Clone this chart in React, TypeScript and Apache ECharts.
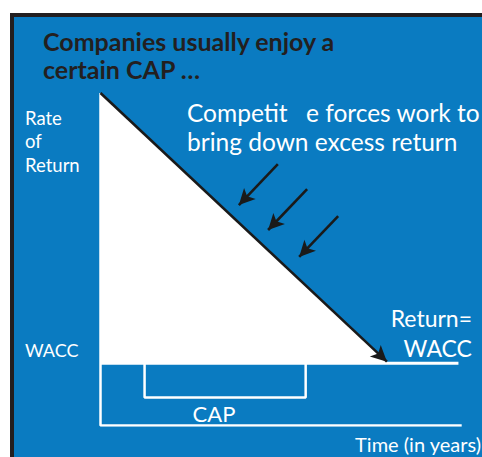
import React, { useEffect, useRef } from "react";
import * as echarts from "echarts";

// Conceptual axes: time (x) and rate of return (y), both 0..100
const waccLevel = 18.7;
const excessReturn: [number, number][] = [
  [0, 100],
  [79.7, 18.7],
];
const returnArrow: [number, number][] = [
  [0, 100],
  [79.3, 19.2],
];
const forceArrows: [number, number][][] = [
  [[49.1, 78.6], [38.3, 66.3]],
  [[57.2, 71.1], [46.4, 58.8]],
  [[65.8, 63.0], [55.0, 50.7]],
];
const waccLine: [number, number][] = [
  [0, 18.7],
  [99.1, 18.7],
];
const timeAxisLine: [number, number][] = [
  [0, 100],
  [0, 0],
  [100, 0],
];
const capBracket: [number, number][] = [
  [12.2, 18.7],
  [12.2, 8.4],
  [56.8, 8.4],
  [56.8, 18.7],
];

const titleLines = ["Companies usually enjoy a", "certain CAP \u2026"];
const forceLines = ["Competit", "e forces work to", "bring down excess return"];
const yLabelLines = ["Rate", "of", "Return"];

const BLUE = "#0A7BC1";
const FONT = "Lato";

export default function App() {
  const ref = useRef<HTMLDivElement>(null);
  useEffect(() => {
    document.body.style.margin = "0";
    const chart = echarts.init(ref.current!, null, { renderer: "svg" });
    const txt = (
      text: string,
      x: number,
      baseline: number,
      fs: number,
      opts: any = {}
    ) => ({
      type: "text",
      x,
      y: baseline - fs * 0.36,
      z: 100,
      silent: true,
      style: {
        text,
        fill: opts.fill || "#ffffff",
        font: `${opts.weight || "normal"} ${fs}px ${FONT}`,
        align: opts.align || "left",
        verticalAlign: "middle",
      },
    });
    const whiteLine = (data: [number, number][], w: number) => ({
      type: "line",
      data,
      symbol: "none",
      silent: true,
      lineStyle: { color: "#ffffff", width: w },
      z: 3,
    });
    chart.setOption({
      animation: false,
      backgroundColor: "#ffffff",
      grid: { left: 100.5, top: 93, right: 20.3, bottom: 31.5 },
      xAxis: { type: "value", min: 0, max: 100, show: false },
      yAxis: { type: "value", min: 0, max: 100, show: false },
      graphic: [
        {
          type: "rect",
          z: -10,
          silent: true,
          shape: { x: 12, y: 15, width: 500, height: 480 },
          style: { fill: BLUE, stroke: "#231F20", lineWidth: 4 },
        },
        txt(titleLines[0], 43, 50, 25, { fill: "#231F20", weight: "bold" }),
        txt(titleLines[1], 43, 78, 25, { fill: "#231F20", weight: "bold" }),
        txt(forceLines[0], 187, 121.5, 24.5),
        txt(forceLines[1], 306, 121.5, 24.5),
        txt(forceLines[2], 187, 150, 24.5),
        txt(yLabelLines[0], 25, 125, 18.5),
        txt(yLabelLines[1], 25, 148, 18.5),
        txt(yLabelLines[2], 25, 171.5, 18.5),
        txt("WACC", 25, 356, 18),
        txt("Return=", 472, 326.5, 23, { align: "right" }),
        txt("WACC", 472, 356, 23, { align: "right" }),
        txt("CAP", 214, 421.5, 22, { align: "center" }),
        txt("Time (in years)", 481, 451.5, 20, { align: "right" }),
      ],
      series: [
        {
          type: "line",
          data: excessReturn,
          symbol: "none",
          silent: true,
          lineStyle: { width: 0 },
          areaStyle: { color: "#ffffff", opacity: 1, origin: waccLevel },
          z: 2,
        },
        whiteLine(waccLine, 3),
        whiteLine(timeAxisLine, 2.5),
        whiteLine(capBracket, 2.5),
        {
          type: "line",
          data: [],
          silent: true,
          z: 5,
          markLine: {
            silent: true,
            animation: false,
            symbol: ["none", "arrow"],
            symbolSize: [12, 16],
            label: { show: false },
            lineStyle: { color: "#1a1a1a", width: 2.6, type: "solid" },
            emphasis: { disabled: true },
            data: [
              [{ coord: returnArrow[0] }, { coord: returnArrow[1] }],
              ...forceArrows.map((a) => [{ coord: a[0] }, { coord: a[1] }]),
            ],
          },
        },
      ],
    });
    return () => chart.dispose();
  }, []);
  return (
    <div
      ref={ref}
      style={{ position: "fixed", left: 0, top: 0, width: 482, height: 457 }}
    />
  );
}
